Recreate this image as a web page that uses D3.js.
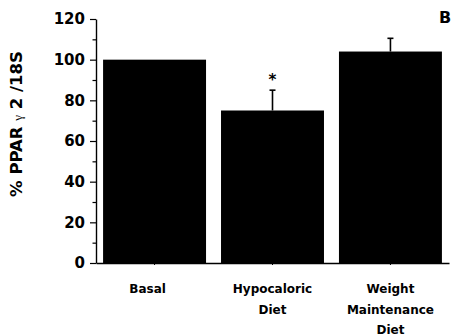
<!DOCTYPE html>
<html>
<head>
<meta charset="utf-8">
<script src="https://cdn.jsdelivr.net/npm/d3@7"></script>
<style>
  html, body { margin: 0; padding: 0; background: #fff; }
  svg { display: block; }
</style>
</head>
<body>
<svg id="chart" width="470" height="336"></svg>
<script>
const categories = ["Basal", "Hypocaloric Diet", "Weight Maintenance Diet"];
const categoryLines = [["Basal"], ["Hypocaloric", "Diet"], ["Weight", "Maintenance", "Diet"]];
const meanValues = [100, 75, 104];
const errorValues = [0, 10, 6.5];
const significant = [false, true, false];
const majorTicks = [0, 20, 40, 60, 80, 100, 120];
const minorTicks = [10, 30, 50, 70, 90, 110];
const yLabel = ["% PPAR ", "γ", " 2 /18S"];
const panelLabel = "B";

const svg = d3.select("#chart");
const font = "'DejaVu Sans', Verdana, sans-serif";

const x = d3.scaleBand().domain(categories).range([96, 449]).paddingInner(0.127).paddingOuter(0.06);
const y = d3.scaleLinear().domain([0, 120]).range([263, 19]);

// bars
svg.append("g").selectAll("rect").data(categories).join("rect")
  .attr("x", d => x(d))
  .attr("width", x.bandwidth())
  .attr("y", (d, i) => y(meanValues[i]))
  .attr("height", (d, i) => y(0) - y(meanValues[i]))
  .attr("fill", "#000");

// error bars
const eb = svg.append("g").attr("stroke", "#000").attr("stroke-width", 1.6);
categories.forEach((c, i) => {
  if (!errorValues[i]) return;
  const cx = x(c) + x.bandwidth() / 2;
  eb.append("line").attr("x1", cx).attr("x2", cx)
    .attr("y1", y(meanValues[i])).attr("y2", y(meanValues[i] + errorValues[i]));
  eb.append("line").attr("x1", cx - 3).attr("x2", cx + 3)
    .attr("y1", y(meanValues[i] + errorValues[i])).attr("y2", y(meanValues[i] + errorValues[i]));
  if (significant[i]) {
    svg.append("text").attr("x", cx).attr("y", y(meanValues[i] + errorValues[i]) - 5)
      .attr("text-anchor", "middle").attr("font-family", font).attr("font-weight", "bold")
      .attr("font-size", 15).text("*");
  }
});

// y axis minor
const yMinor = svg.append("g").attr("transform", "translate(96,0)")
  .call(d3.axisLeft(y).tickValues(minorTicks).tickSize(3.5).tickFormat(""));
yMinor.select(".domain").remove();
yMinor.selectAll("line").attr("stroke", "#000").attr("stroke-width", 1.2);

// y axis major
const yAxis = svg.append("g").attr("transform", "translate(96,0)")
  .call(d3.axisLeft(y).tickValues(majorTicks).tickSize(6).tickPadding(5).tickSizeOuter(0));
yAxis.select(".domain").attr("stroke", "#000").attr("stroke-width", 1.4);
yAxis.selectAll("line").attr("stroke", "#000").attr("stroke-width", 1.2);
yAxis.selectAll("text").attr("font-family", font).attr("font-weight", "bold")
  .attr("font-size", 15).attr("fill", "#000");

// x axis
const xAxis = svg.append("g").attr("transform", "translate(0,263)")
  .call(d3.axisBottom(x).tickSize(2).tickSizeOuter(0).tickFormat(""));
xAxis.select(".domain").attr("stroke", "#000").attr("stroke-width", 1.4);
xAxis.selectAll("line").attr("stroke", "#000");

// x labels
const xl = svg.append("g");
categories.forEach((c, i) => {
  const cx = x(c) + x.bandwidth() / 2;
  const t = xl.append("text").attr("text-anchor", "middle")
    .attr("font-family", font).attr("font-weight", "bold").attr("font-size", 12).attr("fill", "#000");
  categoryLines[i].forEach((ln, j) => {
    t.append("tspan").attr("x", cx + (i === 0 ? -7 : 0)).attr("y", 293 + j * 20.5).text(ln);
  });
});

// y label
const yl = svg.append("text")
  .attr("transform", "translate(22,124) rotate(-90)")
  .attr("text-anchor", "middle").attr("font-family", font).attr("font-weight", "bold")
  .attr("font-size", 16.5).attr("fill", "#000");
yl.append("tspan").text(yLabel[0]);
yl.append("tspan").attr("font-family", "'Liberation Serif', serif").attr("font-weight", "normal")
  .attr("font-size", 13).text(yLabel[1]);
yl.append("tspan").text(yLabel[2]);

// panel label
svg.append("text").attr("x", 445).attr("y", 23).attr("text-anchor", "middle")
  .attr("font-family", font).attr("font-weight", "bold").attr("font-size", 16).text(panelLabel);
</script>
</body>
</html>
